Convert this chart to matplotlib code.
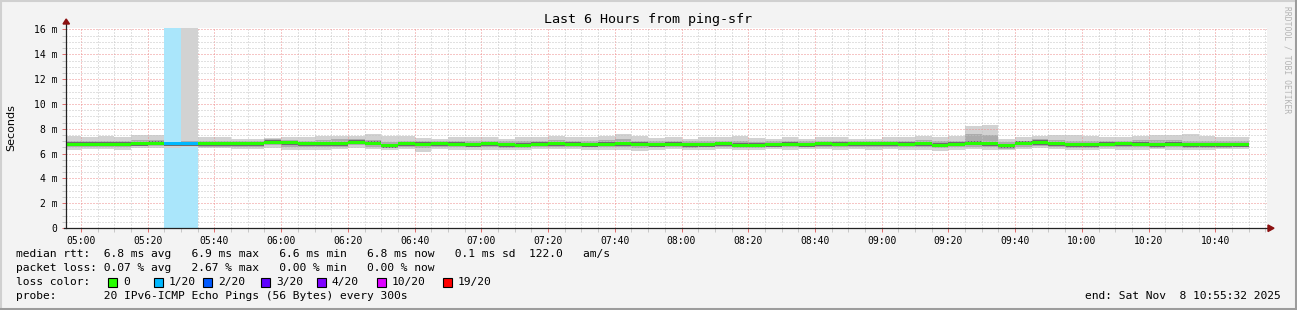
import numpy as np
import pandas as pd
import matplotlib
matplotlib.use("Agg")
import matplotlib.pyplot as plt
import matplotlib.dates as mdates
from matplotlib.ticker import MultipleLocator, FuncFormatter
from matplotlib.patches import Rectangle, Polygon
from matplotlib.lines import Line2D

W, H = 1297, 310
MONO = "DejaVu Sans Mono"

# ---------------------------------------------------------------------------
# data: one value per 5 minute step, first step starts 04:55 (ms)
# ---------------------------------------------------------------------------
FIRST_STEP = "2025-11-08 04:55"
STEP = "5min"

median = [6.75, 6.75, 6.75, 6.75, 6.80, 6.82, 6.80, 6.78, 6.80, 6.78,
          6.78, 6.80, 6.92, 6.88, 6.78, 6.78, 6.80, 6.92, 6.82, 6.62,
          6.78, 6.75, 6.80, 6.75, 6.72, 6.78, 6.70, 6.68, 6.75, 6.78,
          6.75, 6.72, 6.75, 6.80, 6.75, 6.72, 6.75, 6.70, 6.72, 6.78,
          6.68, 6.68, 6.72, 6.75, 6.72, 6.78, 6.75, 6.80, 6.80, 6.80,
          6.75, 6.78, 6.68, 6.75, 6.85, 6.78, 6.62, 6.82, 6.90, 6.80,
          6.72, 6.72, 6.75, 6.78, 6.75, 6.72, 6.75, 6.70, 6.72, 6.70,
          6.72]

smoke_hi = [7.45, 7.35, 7.40, 7.30, 7.50, 7.50, 6.95, 17.0, 7.35, 7.30,
            7.15, 7.15, 7.25, 7.30, 7.30, 7.40, 7.45, 7.40, 7.55, 7.45,
            7.40, 7.25, 7.20, 7.30, 7.35, 7.35, 7.20, 7.30, 7.35, 7.40,
            7.35, 7.30, 7.45, 7.55, 7.45, 7.25, 7.30, 7.20, 7.30, 7.30,
            7.45, 7.25, 7.20, 7.30, 7.20, 7.35, 7.30, 7.20, 7.15, 7.30,
            7.35, 7.40, 7.30, 7.40, 8.25, 8.30, 7.20, 7.30, 7.40, 7.50,
            7.50, 7.40, 7.35, 7.35, 7.40, 7.50, 7.50, 7.55, 7.40, 7.35,
            7.30]

smoke_lo = [6.30, 6.35, 6.35, 6.30, 6.45, 6.45, 6.45, 6.50, 6.45, 6.45,
            6.40, 6.40, 6.45, 6.30, 6.25, 6.30, 6.35, 6.45, 6.40, 6.30,
            6.35, 6.15, 6.35, 6.30, 6.30, 6.25, 6.30, 6.30, 6.35, 6.35,
            6.35, 6.30, 6.30, 6.30, 6.20, 6.30, 6.35, 6.30, 6.30, 6.35,
            6.30, 6.30, 6.35, 6.30, 6.35, 6.35, 6.30, 6.35, 6.30, 6.35,
            6.25, 6.30, 6.20, 6.30, 6.35, 6.30, 6.30, 6.40, 6.45, 6.40,
            6.30, 6.30, 6.35, 6.30, 6.30, 6.35, 6.30, 6.25, 6.30, 6.35,
            6.35]

inner_hi = [7.05, 7.00, 7.00, 7.05, 7.10, 7.10, 6.92, 7.05, 7.05, 7.00,
            7.00, 7.05, 7.15, 7.10, 7.05, 7.10, 7.15, 7.15, 7.10, 6.95,
            7.05, 7.00, 7.05, 7.05, 7.05, 7.05, 7.00, 7.00, 7.05, 7.10,
            7.05, 7.00, 7.10, 7.15, 7.05, 7.00, 7.00, 7.00, 7.05, 7.05,
            7.00, 6.95, 7.00, 7.05, 7.00, 7.05, 7.05, 7.05, 7.00, 7.05,
            7.05, 7.10, 7.00, 7.05, 7.55, 7.50, 6.95, 7.05, 7.15, 7.10,
            7.05, 7.05, 7.05, 7.05, 7.10, 7.10, 7.10, 7.05, 7.05, 7.00,
            7.00]

inner_lo = [6.50, 6.50, 6.50, 6.50, 6.60, 6.60, 6.60, 6.60, 6.55, 6.55,
            6.55, 6.55, 6.65, 6.55, 6.50, 6.50, 6.55, 6.65, 6.55, 6.45,
            6.55, 6.45, 6.55, 6.50, 6.50, 6.50, 6.45, 6.45, 6.50, 6.55,
            6.50, 6.50, 6.50, 6.55, 6.45, 6.50, 6.50, 6.45, 6.50, 6.55,
            6.45, 6.45, 6.50, 6.50, 6.50, 6.55, 6.50, 6.55, 6.55, 6.55,
            6.50, 6.50, 6.45, 6.50, 6.55, 6.50, 6.40, 6.55, 6.60, 6.55,
            6.45, 6.45, 6.50, 6.50, 6.50, 6.45, 6.50, 6.45, 6.45, 6.45,
            6.50]

# lost pings out of 20 per step
loss = [0, 0, 0, 0, 0, 0, 1, 1, 0, 0,
        0, 0, 0, 0, 0, 0, 0, 0, 0, 0,
        0, 0, 0, 0, 0, 0, 0, 0, 0, 0,
        0, 0, 0, 0, 0, 0, 0, 0, 0, 0,
        0, 0, 0, 0, 0, 0, 0, 0, 0, 0,
        0, 0, 0, 0, 0, 0, 0, 0, 0, 0,
        0, 0, 0, 0, 0, 0, 0, 0, 0, 0,
        0]

loss_levels = [0, 1, 2, 3, 4, 10, 19]
loss_labels = ["0", "1/20", "2/20", "3/20", "4/20", "10/20", "19/20"]
loss_colors = ["#26ff00", "#00b8ff", "#0059ff", "#5e00ff", "#7e00ff", "#dd00ff", "#ff0000"]
loss_bg = {1: "#aae6fb"}

y_ticks = [0, 2, 4, 6, 8, 10, 12, 14, 16]

stats_rtt = "median rtt:  6.8 ms avg   6.9 ms max   6.6 ms min   6.8 ms now   0.1 ms sd  122.0   am/s"
stats_loss = "packet loss: 0.07 % avg   2.67 % max   0.00 % min   0.00 % now"
probe_txt = "probe:       20 IPv6-ICMP Echo Pings (56 Bytes) every 300s"
end_txt = "end: Sat Nov  8 10:55:32 2025"
title = "Last 6 Hours from ping-sfr"

# ---------------------------------------------------------------------------
fig = plt.figure(figsize=(W / 100, H / 100), dpi=100)
fig.patch.set_facecolor("#f3f3f3")


def fx(x):
    return x / W


def fy(y):
    return 1 - y / H


ax = fig.add_axes([fx(66), fy(228), fx(1267 - 66), 200 / H])
ax.set_facecolor("white")

n = len(median)
edges = pd.date_range(FIRST_STEP, periods=n + 1, freq=STEP)
med = np.array(median)
loss_arr = np.array(loss)


def ext(a):
    a = np.asarray(a, dtype=float)
    return np.append(a, a[-1])


def runs(values):
    start = 0
    for i in range(1, len(values) + 1):
        if i == len(values) or values[i] != values[start]:
            yield start, i
            start = i


def draw_smoke(sl, z):
    e = edges[sl.start:sl.stop + 1]
    ax.fill_between(e, ext(smoke_lo[sl]), ext(smoke_hi[sl]), step="post",
                    color="#d2d2d2", lw=0, zorder=z)
    ax.fill_between(e, ext(inner_lo[sl]), ext(inner_hi[sl]), step="post",
                    color="#acacac", lw=0, zorder=z + 0.01)
    ax.fill_between(e, ext(med[sl] - 0.17), ext(med[sl] + 0.17), step="post",
                    color="#6e6e6e", lw=0, zorder=z + 0.02)


draw_smoke(slice(0, n), 1)

# loss background + redraw the smoke on top of it
for a, b in runs(list(loss_arr)):
    if loss_arr[a] > 0:
        ax.axvspan(edges[a], edges[b], color=loss_bg[loss_arr[a]], lw=0, zorder=2.6)
        draw_smoke(slice(a, b), 2.7)

# median band coloured by loss
for a, b in runs(list(loss_arr)):
    col = loss_colors[loss_levels.index(loss_arr[a])]
    ax.fill_between(edges[a:b + 1], ext(med[a:b] - 0.12), ext(med[a:b] + 0.12),
                    step="post", color=col, lw=0, zorder=3)

# axes / grid
ax.set_xlim(pd.Timestamp("2025-11-08 04:55:30"), pd.Timestamp("2025-11-08 10:55:30"))
ax.set_ylim(0, 16.12)
ax.xaxis.set_major_locator(mdates.MinuteLocator(byminute=[0, 20, 40]))
ax.xaxis.set_minor_locator(mdates.MinuteLocator(byminute=range(0, 60, 5)))
ax.xaxis.set_major_formatter(mdates.DateFormatter("%H:%M"))
ax.set_yticks(y_ticks)
ax.yaxis.set_minor_locator(MultipleLocator(0.5))
ax.yaxis.set_major_formatter(FuncFormatter(lambda v, p: "0" if v == 0 else f"{v:.0f} m"))

ax.set_axisbelow(False)
dots = (0, (1, 2))
ax.grid(which="minor", color="#c4c4c4", lw=0.72, ls=dots)
ax.grid(which="major", color="#ee8c8c", lw=0.72, ls=dots)
for s in ax.spines.values():
    s.set_visible(False)
ax.tick_params(which="both", length=3, width=0.72, direction="out")
ax.tick_params(which="major", color="#e07070", labelsize=7, pad=3)
ax.tick_params(which="minor", color="#c8c8c8")
for lab in ax.get_xticklabels() + ax.get_yticklabels():
    lab.set_family(MONO)

# axis lines with arrows
ax.add_line(Line2D([0, 0], [0, 1.03], transform=ax.transAxes, color="#222222",
                   lw=0.9, clip_on=False, zorder=5))
ax.add_line(Line2D([-0.002, 1.002], [0, 0], transform=ax.transAxes, color="#222222",
                   lw=0.9, clip_on=False, zorder=5))
fig.add_artist(Polygon([(63, H - 24), (69.5, H - 24), (66.2, H - 19)], closed=True,
                       transform=None, color="#8b1010"))
fig.add_artist(Polygon([(1268, H - 225), (1268, H - 231.5), (1274, H - 228.2)], closed=True,
                       transform=None, color="#8b1010"))

# texts
fig.text(fx(648), fy(19), title, ha="center", va="center", fontsize=9.6, family=MONO)
fig.text(fx(11), fy(128), "Seconds", rotation=90, ha="center", va="center",
         fontsize=8, family="DejaVu Sans")
fig.text(fx(1287), fy(60), "RRDTOOL / TOBI OETIKER", rotation=270, ha="center",
         va="center", fontsize=5.8, family=MONO, color="#b4b4b4")

LS = 8.1
fig.text(fx(16), fy(254), stats_rtt, va="center", fontsize=LS, family=MONO)
fig.text(fx(16), fy(268), stats_loss, va="center", fontsize=LS, family=MONO)
fig.text(fx(16), fy(282), "loss color:", va="center", fontsize=LS, family=MONO)
fig.text(fx(16), fy(296), probe_txt, va="center", fontsize=LS, family=MONO)
fig.text(fx(1281), fy(296), end_txt, ha="right", va="center", fontsize=LS, family=MONO)

box_x = [108, 154, 203, 261, 317, 377, 443]
for bx, lab, col in zip(box_x, loss_labels, loss_colors):
    fig.add_artist(Rectangle((bx, H - 287), 9, 9, transform=None, facecolor=col,
                             edgecolor="black", lw=0.8))
    fig.text(fx(bx + 15), fy(282), lab, va="center", fontsize=LS, family=MONO)

# frame
fig.add_artist(Line2D([0, W], [H - 1, H - 1], transform=None, color="#d0d0d0", lw=1.5))
fig.add_artist(Line2D([1, 1], [0, H], transform=None, color="#d0d0d0", lw=1.5))
fig.add_artist(Line2D([W - 1.5, W - 1.5], [0, H], transform=None, color="#9c9c9c", lw=2.2))
fig.add_artist(Line2D([0, W], [1.5, 1.5], transform=None, color="#9c9c9c", lw=2.2))

fig.savefig("out.png", dpi=100, facecolor=fig.get_facecolor())
